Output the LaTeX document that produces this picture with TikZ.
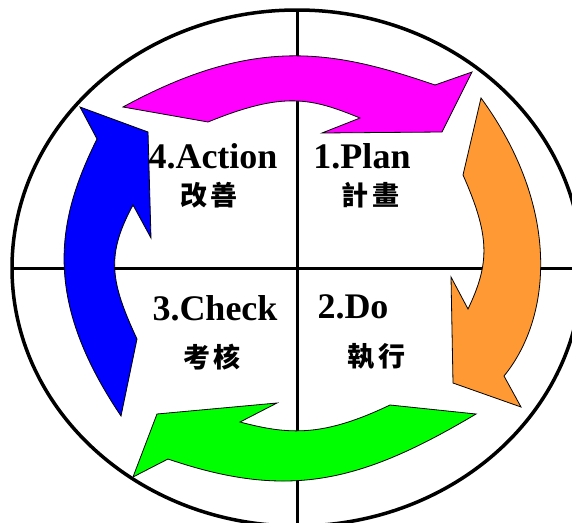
\documentclass[tikz,border=0pt]{standalone}
\usepackage{fontspec}
\setmainfont{Liberation Serif}
\newfontfamily\cjkfont{Noto Sans CJK TC}
\usepackage{tikz}

\definecolor{plancolor}{RGB}{255,0,255}
\definecolor{docolor}{RGB}{255,153,51}
\definecolor{checkcolor}{RGB}{0,255,0}
\definecolor{actcolor}{RGB}{0,0,255}

\begin{document}
\begin{tikzpicture}[
    x=1pt, y=-1pt,
    stage/.style={font=\fontsize{36}{40}\selectfont\bfseries, inner sep=0pt, anchor=base},
    cjktext/.style={font=\fontsize{27}{30}\selectfont\cjkfont\bfseries, inner sep=0pt},
    cyclearrow/.style={draw=black, line width=0.8pt, line join=miter},
    rim/.style={line width=3.5pt},
    cross/.style={line width=3pt}
  ]
  \useasboundingbox (0,0) rectangle (572,522);
  \clip (0,0) rectangle (572,522);

  % outer ring and quadrants
  \draw[rim] (297,268) ellipse [x radius=285pt, y radius=258pt];
  \draw[cross] (297,10) -- (297,526);
  \draw[cross] (12,268) -- (582,268);

  % cycle arrows
  \draw[cyclearrow, fill=plancolor] (123,107) .. controls (255,35) and (333,50) .. (435,85)
    -- (472,72) -- (442,132) -- (322,133) -- (360,118)
    .. controls (311,98) and (284,91) .. (208,122) -- cycle;
  \draw[cyclearrow, fill=docolor] (481,98) .. controls (560,206) and (553,316) .. (504,376)
    -- (521,407) -- (453,383) -- (451,277) -- (468,309)
    .. controls (490,263) and (490,236) .. (463,175) -- cycle;
  \draw[cyclearrow, fill=checkcolor] (476,414) .. controls (360,483) and (288,500) .. (168,459)
    -- (133,477) -- (157,414) -- (277,403) -- (240,422)
    .. controls (289,435) and (323,437) .. (390,405) -- cycle;
  \draw[cyclearrow, fill=actcolor] (80,107) -- (148,132) -- (151,238) -- (133,205)
    .. controls (106,255) and (110,281) .. (137,339) -- (121,416)
    .. controls (43.5,301) and (55,223) .. (97,139) -- cycle;

  % stage labels
  \node[stage] (action) at (213,168) {4.Action};
  \node[stage] (plan) at (362,168) {1.Plan};
  \node[stage] (check) at (215,320) {3.Check};
  \node[stage] (do) at (353,318) {2.Do};

  \node[cjktext] (actioncjk) at (209,195) {改\kern4pt 善};
  \node[cjktext] (plancjk) at (370,195) {計\kern4pt 畫};
  \node[cjktext] (checkcjk) at (212,357) {考\kern4pt 核};
  \node[cjktext] (docjk) at (376,357) {執\kern4pt 行};
\end{tikzpicture}
\end{document}
